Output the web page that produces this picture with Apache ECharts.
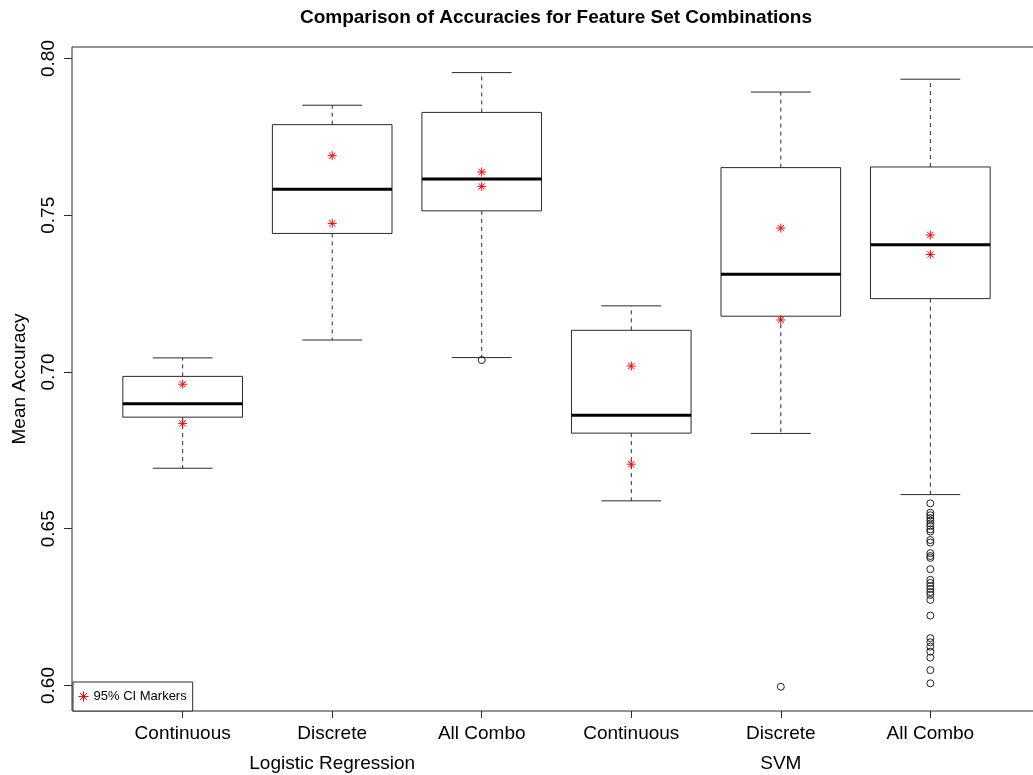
<!DOCTYPE html>
<html>
<head>
<meta charset="utf-8">
<script src="https://cdn.jsdelivr.net/npm/echarts@6/dist/echarts.min.js"></script>
<style>
  html, body { margin: 0; padding: 0; background: #fff; overflow: hidden; }
  #chart { width: 1033px; height: 775px; }
</style>
</head>
<body>
<div id="chart"></div>
<script>
// Feature sets per model (x positions 1..6) and the model names printed beneath them
const featureSets = ['Continuous', 'Discrete', 'All Combo', 'Continuous', 'Discrete', 'All Combo'];
const methodLabels = ['', 'Logistic Regression', '', '', 'SVM', ''];
const yTicks = [0.60, 0.65, 0.70, 0.75, 0.80];

// Five-number summaries of mean accuracy
const whiskerLow  = [0.6693, 0.7102, 0.7046, 0.6589, 0.6804, 0.6609];
const quartile1   = [0.6856, 0.7442, 0.7514, 0.6805, 0.7178, 0.7234];
const medians     = [0.6899, 0.7583, 0.7616, 0.6862, 0.7312, 0.7406];
const quartile3   = [0.6986, 0.7789, 0.7828, 0.7133, 0.7652, 0.7654];
const whiskerHigh = [0.7045, 0.7851, 0.7955, 0.7211, 0.7893, 0.7934];

// 95% confidence interval bounds of the mean
const ciUpper = [0.6961, 0.7690, 0.7638, 0.7019, 0.7459, 0.7437];
const ciLower = [0.6836, 0.7474, 0.7592, 0.6706, 0.7166, 0.7375];

// Points beyond the whiskers
const outliersLRAllCombo = [0.7038];
const outliersSVMDiscrete = [0.5996];
const outliersSVMAllCombo = [
  0.6581, 0.6551, 0.6543, 0.6534, 0.6526, 0.6517, 0.6509, 0.6498, 0.6491,
  0.6464, 0.6456, 0.6422, 0.6413, 0.6407, 0.6371, 0.6337, 0.6327, 0.6317,
  0.6308, 0.6298, 0.6289, 0.6273, 0.6223, 0.6151, 0.6138, 0.6124, 0.6108,
  0.6089, 0.6049, 0.6007
];

const FONT = '"Liberation Sans", Arial, Helvetica, sans-serif';
const LINE = '#2a2a2a';
const BOX_WEX = 0.8;      // box width in x units
const STAPLE_WEX = 0.5;   // whisker cap width relative to box
const STAR = 'path://M5,0L5,10M0,5L10,5M1.5,1.5L8.5,8.5M1.5,8.5L8.5,1.5';

const positions = featureSets.map((_, i) => i + 1);

const boxData = positions.map((x, i) => [
  x, whiskerLow[i], quartile1[i], medians[i], quartile3[i], whiskerHigh[i]
]);

const ciData = [];
positions.forEach((x, i) => {
  ciData.push([x, ciUpper[i]]);
  ciData.push([x, ciLower[i]]);
});

const outlierData = []
  .concat(outliersLRAllCombo.map(v => [3, v]))
  .concat(outliersSVMDiscrete.map(v => [5, v]))
  .concat(outliersSVMAllCombo.map(v => [6, v]));

function renderBox(params, api) {
  const x = api.value(0);
  const lo = api.coord([x, api.value(1)]);
  const q1 = api.coord([x, api.value(2)]);
  const md = api.coord([x, api.value(3)]);
  const q3 = api.coord([x, api.value(4)]);
  const hi = api.coord([x, api.value(5)]);
  const unit = api.size([1, 0])[0];
  const half = unit * BOX_WEX / 2;
  const capHalf = half * STAPLE_WEX;
  const cx = lo[0];
  const dashed = { stroke: LINE, lineWidth: 1, lineDash: [4, 4] };
  const solid = { stroke: LINE, lineWidth: 1 };
  const seg = (x1, y1, x2, y2, style) => ({ type: 'line', shape: { x1, y1, x2, y2 }, style });
  return {
    type: 'group',
    children: [
      seg(cx, q3[1], cx, hi[1], dashed),
      seg(cx, q1[1], cx, lo[1], dashed),
      seg(cx - capHalf, hi[1], cx + capHalf, hi[1], solid),
      seg(cx - capHalf, lo[1], cx + capHalf, lo[1], solid),
      {
        type: 'rect',
        shape: { x: cx - half, y: q3[1], width: 2 * half, height: q1[1] - q3[1] },
        style: { fill: 'none', stroke: LINE, lineWidth: 1 }
      },
      seg(cx - half, md[1], cx + half, md[1], { stroke: '#000', lineWidth: 3 })
    ]
  };
}

const chart = echarts.init(document.getElementById('chart'), null, { renderer: 'canvas' });

chart.setOption({
  backgroundColor: '#fff',
  animation: false,
  title: {
    text: 'Comparison of Accuracies for Feature Set Combinations',
    left: 556,
    top: 8,
    padding: 0,
    textAlign: 'center',
    textStyle: { fontFamily: FONT, fontSize: 19, fontWeight: 'bold', color: '#000' }
  },
  legend: {
    left: 73,
    bottom: 64,
    orient: 'vertical',
    padding: [8, 6, 8, 5],
    itemWidth: 10,
    itemHeight: 10,
    backgroundColor: '#fff',
    borderColor: LINE,
    borderWidth: 1,
    borderRadius: 0,
    selectedMode: false,
    textStyle: { fontFamily: FONT, fontSize: 13, color: '#000' },
    data: [{
      name: '95% CI Markers',
      icon: STAR,
      itemStyle: { color: '#ff0000', borderColor: '#ff0000', borderWidth: 1 }
    }]
  },
  grid: {
    left: 72,
    right: -8,
    top: 47,
    bottom: 64,
    outerBoundsMode: 'none',
    containLabel: false,
    show: true,
    borderColor: LINE,
    borderWidth: 1,
    backgroundColor: 'transparent'
  },
  xAxis: {
    type: 'value',
    min: 0.26,
    max: 6.74,
    axisLine: { show: false },
    splitLine: { show: false },
    axisTick: {
      show: true,
      inside: false,
      length: 7,
      lineStyle: { color: LINE, width: 1 },
      customValues: positions
    },
    axisLabel: {
      customValues: positions,
      margin: 8,
      fontFamily: FONT,
      fontSize: 19,
      lineHeight: 30,
      color: '#000',
      formatter: v => {
        const i = Math.round(v) - 1;
        return methodLabels[i] ? featureSets[i] + '\n' + methodLabels[i] : featureSets[i];
      }
    }
  },
  yAxis: {
    type: 'value',
    min: 0.591866,
    max: 0.803668,
    name: 'Mean Accuracy',
    nameLocation: 'middle',
    nameGap: 43,
    nameTextStyle: { fontFamily: FONT, fontSize: 19, color: '#000' },
    axisLine: { show: false },
    splitLine: { show: false },
    axisTick: {
      show: true,
      inside: false,
      length: 8,
      lineStyle: { color: LINE, width: 1 },
      customValues: yTicks
    },
    axisLabel: {
      customValues: yTicks,
      rotate: 90,
      margin: 14,
      fontFamily: FONT,
      fontSize: 19,
      color: '#000',
      formatter: v => v.toFixed(2)
    }
  },
  series: [
    {
      name: 'boxes',
      type: 'custom',
      renderItem: renderBox,
      encode: { x: 0, y: [1, 2, 3, 4, 5] },
      data: boxData,
      z: 2,
      silent: true
    },
    {
      name: 'outliers',
      type: 'scatter',
      symbol: 'circle',
      symbolSize: 7,
      itemStyle: { color: 'rgba(0,0,0,0)', borderColor: '#222', borderWidth: 1, opacity: 1 },
      data: outlierData,
      z: 3,
      silent: true
    },
    {
      name: '95% CI Markers',
      type: 'scatter',
      symbol: STAR,
      symbolSize: 9,
      itemStyle: { color: '#ff0000', borderColor: '#ff0000', borderWidth: 1, opacity: 1 },
      data: ciData,
      z: 4,
      silent: true
    }
  ]
});
</script>
</body>
</html>
